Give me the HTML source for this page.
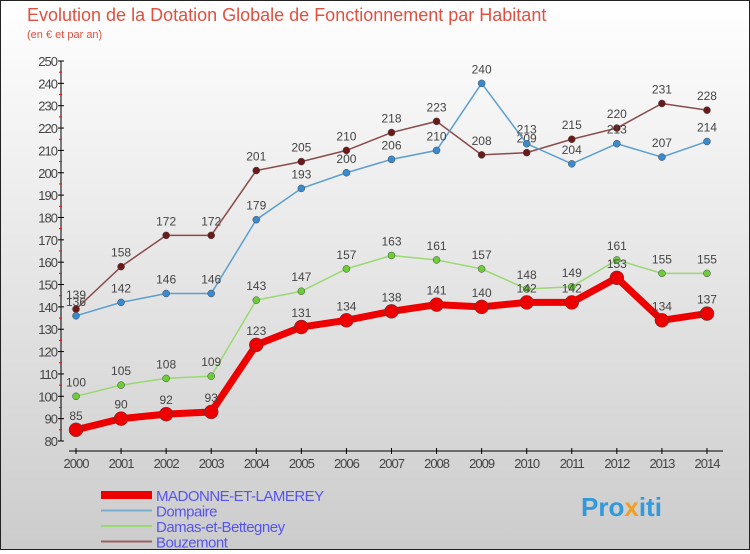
<!DOCTYPE html>
<html><head><meta charset="utf-8"><style>
body{margin:0;width:750px;height:550px;overflow:hidden;font-family:"Liberation Sans",sans-serif}
#wrap{position:relative;width:748px;height:548px;border:1px solid #222;background:linear-gradient(#fff,#ccc)}
</style></head><body>
<div id="wrap">
<svg id="chart" width="748" height="548">
<text x="26" y="20" font-size="18" fill="#e05040">Evolution de la Dotation Globale de Fonctionnement par Habitant</text>
<text x="26" y="37" font-size="11" fill="#e05040">(en € et par an)</text>
<g id="axes"></g><g id="series"></g><g id="legend"></g>
<text x="580" y="515" font-size="26" font-weight="bold" fill="#3399dd">Pro<tspan fill="#f0a020">x</tspan>iti</text>
</svg></div>
<script>
const years=[2000,2001,2002,2003,2004,2005,2006,2007,2008,2009,2010,2011,2012,2013,2014];
const yTicks=[80,90,100,110,120,130,140,150,160,170,180,190,200,210,220,230,240,250];
const madonne=[85,90,92,93,123,131,134,138,141,140,142,142,153,134,137];
const dompaire=[136,142,146,146,179,193,200,206,210,240,213,204,213,207,214];
const damas=[100,105,108,109,143,147,157,163,161,157,148,149,161,155,155];
const bouzemont=[139,158,172,172,201,205,210,218,223,208,209,215,220,231,228];
const names=["MADONNE-ET-LAMEREY","Dompaire","Damas-et-Bettegney","Bouzemont"];
const NS="http://www.w3.org/2000/svg";
const X=i=>75+i*45.07, Y=v=>440-(v-80)*380/170;
function mk(p,t,a){const e=document.createElementNS(NS,t);for(const k in a)e.setAttribute(k,a[k]);p.appendChild(e);return e;}
const ax=document.getElementById('axes');
let l=mk(ax,'line',{x1:60,y1:60,x2:60,y2:440,stroke:'#000','stroke-width':1});

l=mk(ax,'line',{x1:68,y1:450,x2:722,y2:450,stroke:'#000','stroke-width':1});

yTicks.forEach((v,i)=>{mk(ax,'line',{x1:57,x2:63,y1:Y(v),y2:Y(v),stroke:'#000'});
 if(i<yTicks.length-1)mk(ax,'line',{x1:58,x2:61,y1:Y(v+5),y2:Y(v+5),stroke:'#f00'});
 const t=mk(ax,'text',{x:56,y:Y(v)+5,'font-size':13,'text-anchor':'end',fill:'#444','letter-spacing':'-1'});t.textContent=v;
 });
years.forEach((y,i)=>{mk(ax,'line',{x1:X(i),x2:X(i),y1:447,y2:453,stroke:'#000'});
 const t=mk(ax,'text',{x:X(i),y:467,'font-size':13,'text-anchor':'middle',fill:'#444','letter-spacing':'-1'});t.textContent=y;
 });
const sg=document.getElementById('series');
function draw(data,color,w,r,dot,key){
 const g=mk(sg,'g',{});
 mk(g,'polyline',{points:data.map((v,i)=>X(i)+','+Y(v)).join(' '),fill:'none',stroke:color,'stroke-width':w});
 data.forEach((v,i)=>{const c=mk(g,'circle',{cx:X(i),cy:Y(v),r:r,fill:dot,stroke:'#444','stroke-width':0.5});
  
  const t=mk(g,'text',{x:X(i),y:Y(v)-10,'font-size':12,'text-anchor':'middle',fill:'#444'});t.textContent=v;
  });
}
draw(bouzemont,'#8b4a4a',1.5,3.5,'#6b1a1a','bouzemont');
draw(dompaire,'#5a9fd0',1.5,3.5,'#3a8ad0','dompaire');
draw(damas,'#9ad870',1.5,3.5,'#6ccc3a','damas');
draw(madonne,'#ee0000',7,7,'#ee0000','madonne');
const lg=document.getElementById('legend');
const lc=['#ee0000','#7aaed0','#9ad870','#9b6060'],lw=[8,2,2,2];
names.forEach((n,i)=>{const g=mk(lg,'g',{});
 const yy=494+i*15.5;mk(g,'line',{x1:100,x2:151,y1:yy,y2:yy,stroke:lc[i],'stroke-width':lw[i]});
 const t=mk(g,'text',{x:155,y:yy+6,'font-size':15,fill:'#5555ee','letter-spacing':'-0.5'});t.textContent=n;});
</script></body></html>
